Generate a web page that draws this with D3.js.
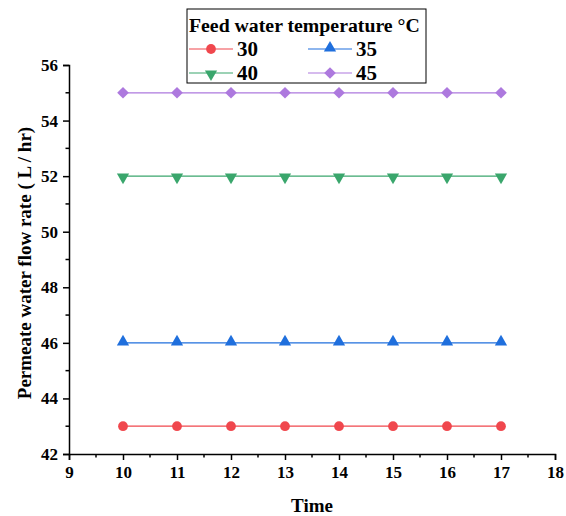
<!DOCTYPE html>
<html>
<head>
<meta charset="utf-8">
<script src="https://cdn.jsdelivr.net/npm/d3@7"></script>
<style>
  body { margin: 0; background: #fff; }
  text { font-family: "Liberation Serif", "Times New Roman", serif; font-weight: bold; }
</style>
</head>
<body>
<svg id="chart" width="566" height="516"></svg>
<script>
const times = [10, 11, 12, 13, 14, 15, 16, 17];
const temps = ["30", "35", "40", "45"];
const flow30 = [43, 43, 43, 43, 43, 43, 43, 43];
const flow35 = [46, 46, 46, 46, 46, 46, 46, 46];
const flow40 = [52, 52, 52, 52, 52, 52, 52, 52];
const flow45 = [55, 55, 55, 55, 55, 55, 55, 55];
const xTicks = [9, 10, 11, 12, 13, 14, 15, 16, 17, 18];
const yTicks = [42, 44, 46, 48, 50, 52, 54, 56];

const series = [
  { name: temps[0], values: flow30, color: "#f0474d", symbol: d3.symbolCircle, size: 75 },
  { name: temps[1], values: flow35, color: "#1f6fdd", symbol: d3.symbolTriangle, size: 65, dy: -1 },
  { name: temps[2], values: flow40, color: "#3aa66c", symbol: d3.symbolTriangle, size: 65, rotate: 180, dy: 1 },
  { name: temps[3], values: flow45, color: "#ad79de", symbol: d3.symbolSquare, size: 68, rotate: 45 },
];

const svg = d3.select("#chart");
const margin = { left: 69, right: 11, top: 65, bottom: 62 };
const width = 566, height = 516;

const x = d3.scaleLinear().domain([9, 18]).range([margin.left, width - margin.right]);
const y = d3.scaleLinear().domain([42, 56]).range([height - margin.bottom, margin.top]);

// minor ticks
const xMinor = d3.range(9.5, 18, 1);
const yMinor = d3.range(43, 56, 2);

const xAxis = svg.append("g").attr("transform", `translate(0,${y(42)})`)
  .call(d3.axisBottom(x).tickValues(xTicks).tickSize(6).tickPadding(6).tickFormat(d3.format("d")));
xAxis.append("g").selectAll("line").data(xMinor).join("line")
  .attr("x1", d => x(d)).attr("x2", d => x(d)).attr("y1", 0).attr("y2", 3.5)
  .attr("stroke", "#000").attr("stroke-width", 1.5);

const yAxis = svg.append("g").attr("transform", `translate(${x(9)},0)`)
  .call(d3.axisLeft(y).tickValues(yTicks).tickSize(6).tickPadding(5).tickFormat(d3.format("d")));
yAxis.append("g").selectAll("line").data(yMinor).join("line")
  .attr("y1", d => y(d)).attr("y2", d => y(d)).attr("x1", 0).attr("x2", -3.5)
  .attr("stroke", "#000").attr("stroke-width", 1.5);

[xAxis, yAxis].forEach(a => {
  a.attr("font-size", 17);
  a.select(".domain").attr("stroke-width", 1.5);
  a.selectAll(".tick line").attr("stroke-width", 1.5);
  a.selectAll(".tick text").attr("fill", "#000")
    .style("font-family", "'Liberation Serif', serif")
    .style("font-weight", "700")
    .style("font-size", "17px");
});

// axis titles
svg.append("text").attr("x", x(13.5)).attr("y", 512).attr("text-anchor", "middle")
  .attr("font-size", 19).text("Time");
svg.append("text").attr("transform", `translate(31,263) rotate(-90)`)
  .attr("text-anchor", "middle").attr("font-size", 19)
  .text("Permeate water flow rate ( L / hr)");

// series
const line = d3.line().x((d, i) => x(times[i])).y(d => y(d));
series.forEach(s => {
  svg.append("path").datum(s.values).attr("d", line)
    .attr("fill", "none").attr("stroke", s.color).attr("stroke-width", 1.2);
  svg.append("g").selectAll("path").data(s.values).join("path")
    .attr("d", d3.symbol(s.symbol, s.size))
    .attr("transform", (d, i) => `translate(${x(times[i])},${y(d) + (s.dy || 0)}) rotate(${s.rotate || 0})`)
    .attr("fill", s.color);
});

// legend
const lg = svg.append("g");
lg.append("rect").attr("x", 187).attr("y", 9).attr("width", 239).attr("height", 74)
  .attr("fill", "#fff").attr("stroke", "#000").attr("stroke-width", 1);
lg.append("text").attr("x", 189).attr("y", 32).attr("font-size", 19.8)
  .text("Feed water temperature \u00B0C");
series.forEach((s, i) => {
  const cx = 189 + (i % 2) * 119;
  const cy = 49 + Math.floor(i / 2) * 24;
  lg.append("line").attr("x1", cx).attr("x2", cx + 44).attr("y1", cy).attr("y2", cy)
    .attr("stroke", s.color).attr("stroke-width", 1.2);
  lg.append("path").attr("d", d3.symbol(s.symbol, s.size))
    .attr("transform", `translate(${cx + 22},${cy + (s.dy || 0)}) rotate(${s.rotate || 0})`)
    .attr("fill", s.color);
  lg.append("text").attr("x", cx + 48).attr("y", cy + 7).attr("font-size", 21).text(s.name);
});
</script>
</body>
</html>
